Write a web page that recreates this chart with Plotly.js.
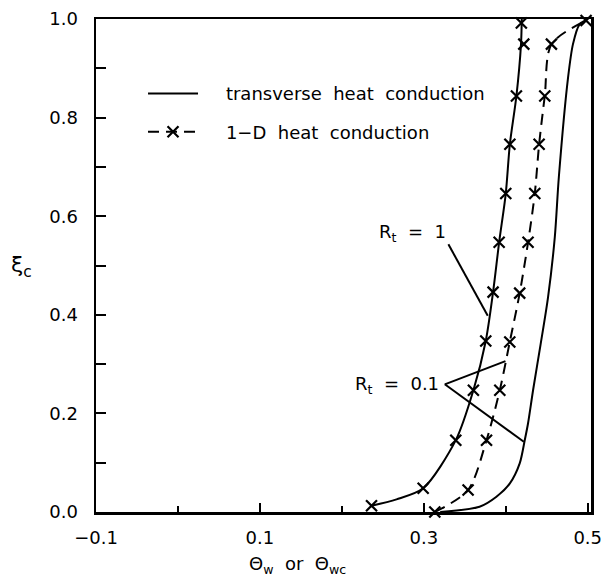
<!DOCTYPE html>
<html>
<head>
<meta charset="utf-8">
<script src="https://cdn.plot.ly/plotly-3.0.1.min.js"></script>
<style>
  html, body { margin: 0; padding: 0; background: #fff; }
  #chart { width: 601px; height: 579px; }
</style>
</head>
<body>
<div id="chart"></div>
<script>
// Condensation front position xi_c versus wall temperature Theta_w (Theta_wc)

// R_t = 1, transverse heat conduction (solid curve)
const xiTrans1 = [0.0128, 0.0256, 0.048, 0.1457, 0.247, 0.347, 0.446, 0.547, 0.646, 0.746, 0.844, 0.949, 1.0];
const thTrans1 = [0.2362, 0.2667, 0.2992, 0.339, 0.3605, 0.3756, 0.3845, 0.3919, 0.400, 0.405, 0.413, 0.4186, 0.4195];

// R_t = 1, 1-D heat conduction (crosses)
const xiOneD1 = [0.0128, 0.048, 0.1457, 0.247, 0.347, 0.446, 0.547, 0.646, 0.746, 0.844, 0.949, 0.992];
const thOneD1 = [0.2362, 0.2992, 0.339, 0.3605, 0.3756, 0.3845, 0.3919, 0.400, 0.405, 0.413, 0.422, 0.419];

// R_t = 0.1, 1-D heat conduction (dashed with crosses)
const xiOneD01 = [0.0, 0.0445, 0.1457, 0.247, 0.345, 0.444, 0.547, 0.646, 0.746, 0.844, 0.949, 0.997];
const thOneD01 = [0.3134, 0.354, 0.3765, 0.3927, 0.4049, 0.417, 0.4272, 0.4354, 0.4407, 0.4476, 0.4557, 0.498];

// R_t = 0.1, transverse heat conduction (solid curve)
const xiTrans01 = [0.0, 0.0107, 0.031, 0.058, 0.0985, 0.146, 0.18, 0.247, 0.34, 0.436, 0.557, 0.68, 0.881, 0.949, 0.989, 0.997];
const thTrans01 = [0.320, 0.368, 0.3886, 0.405, 0.417, 0.4232, 0.4272, 0.4333, 0.4425, 0.4516, 0.4598, 0.4648, 0.476, 0.482, 0.49, 0.497];

// Axis ticks
const xTickVals = [-0.1, 0.1, 0.3, 0.5];
const xTickText = ['\u22120.1', '0.1', '0.3', '0.5'];
const xMinorVals = [0.0, 0.2, 0.4];
const yTickVals = [0.0, 0.2, 0.4, 0.6, 0.8, 1.0];
const yTickText = ['0.0', '0.2', '0.4', '0.6', '0.8', '1.0'];

// Curve labels and their leader lines (data coordinates)
const labelRt1 = { text: 'R<sub>t</sub>  =  1', x: 0.330, y: 0.565 };
const labelRt01 = { text: 'R<sub>t</sub>  =  0.1', x: 0.3205, y: 0.257 };
const leaderRt1 = [[0.330, 0.543], [0.378, 0.398]];
const leaderRt01a = [[0.3256, 0.259], [0.3996, 0.306]];
const leaderRt01b = [[0.3256, 0.259], [0.422, 0.1424]];

const FONT = 'DejaVu Sans, Liberation Sans, Arial, sans-serif';
const INK = '#000';
const PAD = '\u00a0\u00a0\u00a0\u00a0';

const traces = [
  {
    x: thTrans1, y: xiTrans1, type: 'scatter', mode: 'lines',
    line: { color: INK, width: 2, shape: 'spline', smoothing: 0.8 },
    name: PAD + 'transverse  heat  conduction', legendgroup: 'a', showlegend: true,
    hoverinfo: 'skip'
  },
  {
    x: thOneD01, y: xiOneD01, type: 'scatter', mode: 'lines+markers',
    line: { color: INK, width: 2, dash: '11px,7px', shape: 'spline', smoothing: 0.8 },
    marker: { symbol: 'x-thin', size: 11, color: INK, line: { color: INK, width: 2.2 } },
    name: PAD + '1\u2212D  heat  conduction', legendgroup: 'b', showlegend: true,
    cliponaxis: false, hoverinfo: 'skip'
  },
  {
    x: thTrans01, y: xiTrans01, type: 'scatter', mode: 'lines',
    line: { color: INK, width: 2, shape: 'spline', smoothing: 0.8 },
    showlegend: false, hoverinfo: 'skip'
  },
  {
    x: thOneD1, y: xiOneD1, type: 'scatter', mode: 'markers',
    marker: { symbol: 'x-thin', size: 11, color: INK, line: { color: INK, width: 2.2 } },
    showlegend: false, cliponaxis: false, hoverinfo: 'skip'
  }
];

function leaderShape(seg) {
  return {
    type: 'line', xref: 'x', yref: 'y',
    x0: seg[0][0], y0: seg[0][1], x1: seg[1][0], y1: seg[1][1],
    line: { color: INK, width: 2 }
  };
}

const layout = {
  width: 601, height: 579,
  margin: { l: 96, r: 10, t: 19, b: 67 },
  paper_bgcolor: '#fff', plot_bgcolor: '#fff',
  font: { family: FONT, size: 18, color: INK },
  showlegend: true,
  legend: {
    x: 0.095, y: 0.886, xanchor: 'left', yanchor: 'top',
    bgcolor: 'rgba(0,0,0,0)', borderwidth: 0,
    font: { family: FONT, size: 18, color: INK },
    traceorder: 'grouped', tracegroupgap: 12, itemwidth: 50
  },
  xaxis: {
    range: [-0.1, 0.504], showgrid: false, zeroline: false,
    showline: true, linecolor: INK, linewidth: 2.5, mirror: true,
    ticks: 'inside', ticklen: 9, tickwidth: 2, tickcolor: INK,
    tickvals: xTickVals, ticktext: xTickText, ticklabelstandoff: 8,
    ticklabeloverflow: 'allow',
    tickfont: { family: FONT, size: 18, color: INK },
    minor: { tickvals: xMinorVals, ticks: 'inside', ticklen: 6, tickwidth: 2, tickcolor: INK, showgrid: false }
  },
  yaxis: {
    range: [0, 1.0], showgrid: false, zeroline: false,
    showline: true, linecolor: INK, linewidth: 2.5, mirror: true,
    ticks: 'inside', ticklen: 10, tickwidth: 2, tickcolor: INK,
    tickvals: yTickVals, ticktext: yTickText, ticklabelstandoff: 12,
    ticklabeloverflow: 'allow',
    tickfont: { family: FONT, size: 18, color: INK },
    minor: { dtick: 0.1, tick0: 0, ticks: 'inside', ticklen: 10, tickwidth: 2, tickcolor: INK, showgrid: false }
  },
  shapes: [leaderShape(leaderRt1), leaderShape(leaderRt01a), leaderShape(leaderRt01b)],
  annotations: [
    { text: labelRt1.text, x: labelRt1.x, y: labelRt1.y, xref: 'x', yref: 'y',
      xanchor: 'right', yanchor: 'middle', showarrow: false, font: { family: FONT, size: 18, color: INK } },
    { text: labelRt01.text, x: labelRt01.x, y: labelRt01.y, xref: 'x', yref: 'y',
      xanchor: 'right', yanchor: 'middle', showarrow: false, font: { family: FONT, size: 18, color: INK } },
    { text: '\u03be<sub>c</sub>', x: -0.15, y: 0.497, xref: 'paper', yref: 'paper',
      xanchor: 'center', yanchor: 'middle', showarrow: false, font: { family: FONT, size: 22, color: INK } },
    { text: '\u0398<sub>w</sub>  or  \u0398<sub>wc</sub>', x: 0.408, y: -0.1075, xref: 'paper', yref: 'paper',
      xanchor: 'center', yanchor: 'middle', showarrow: false, font: { family: FONT, size: 18, color: INK } }
  ]
};

Plotly.newPlot('chart', traces, layout, { staticPlot: true, displayModeBar: false });
</script>
</body>
</html>
